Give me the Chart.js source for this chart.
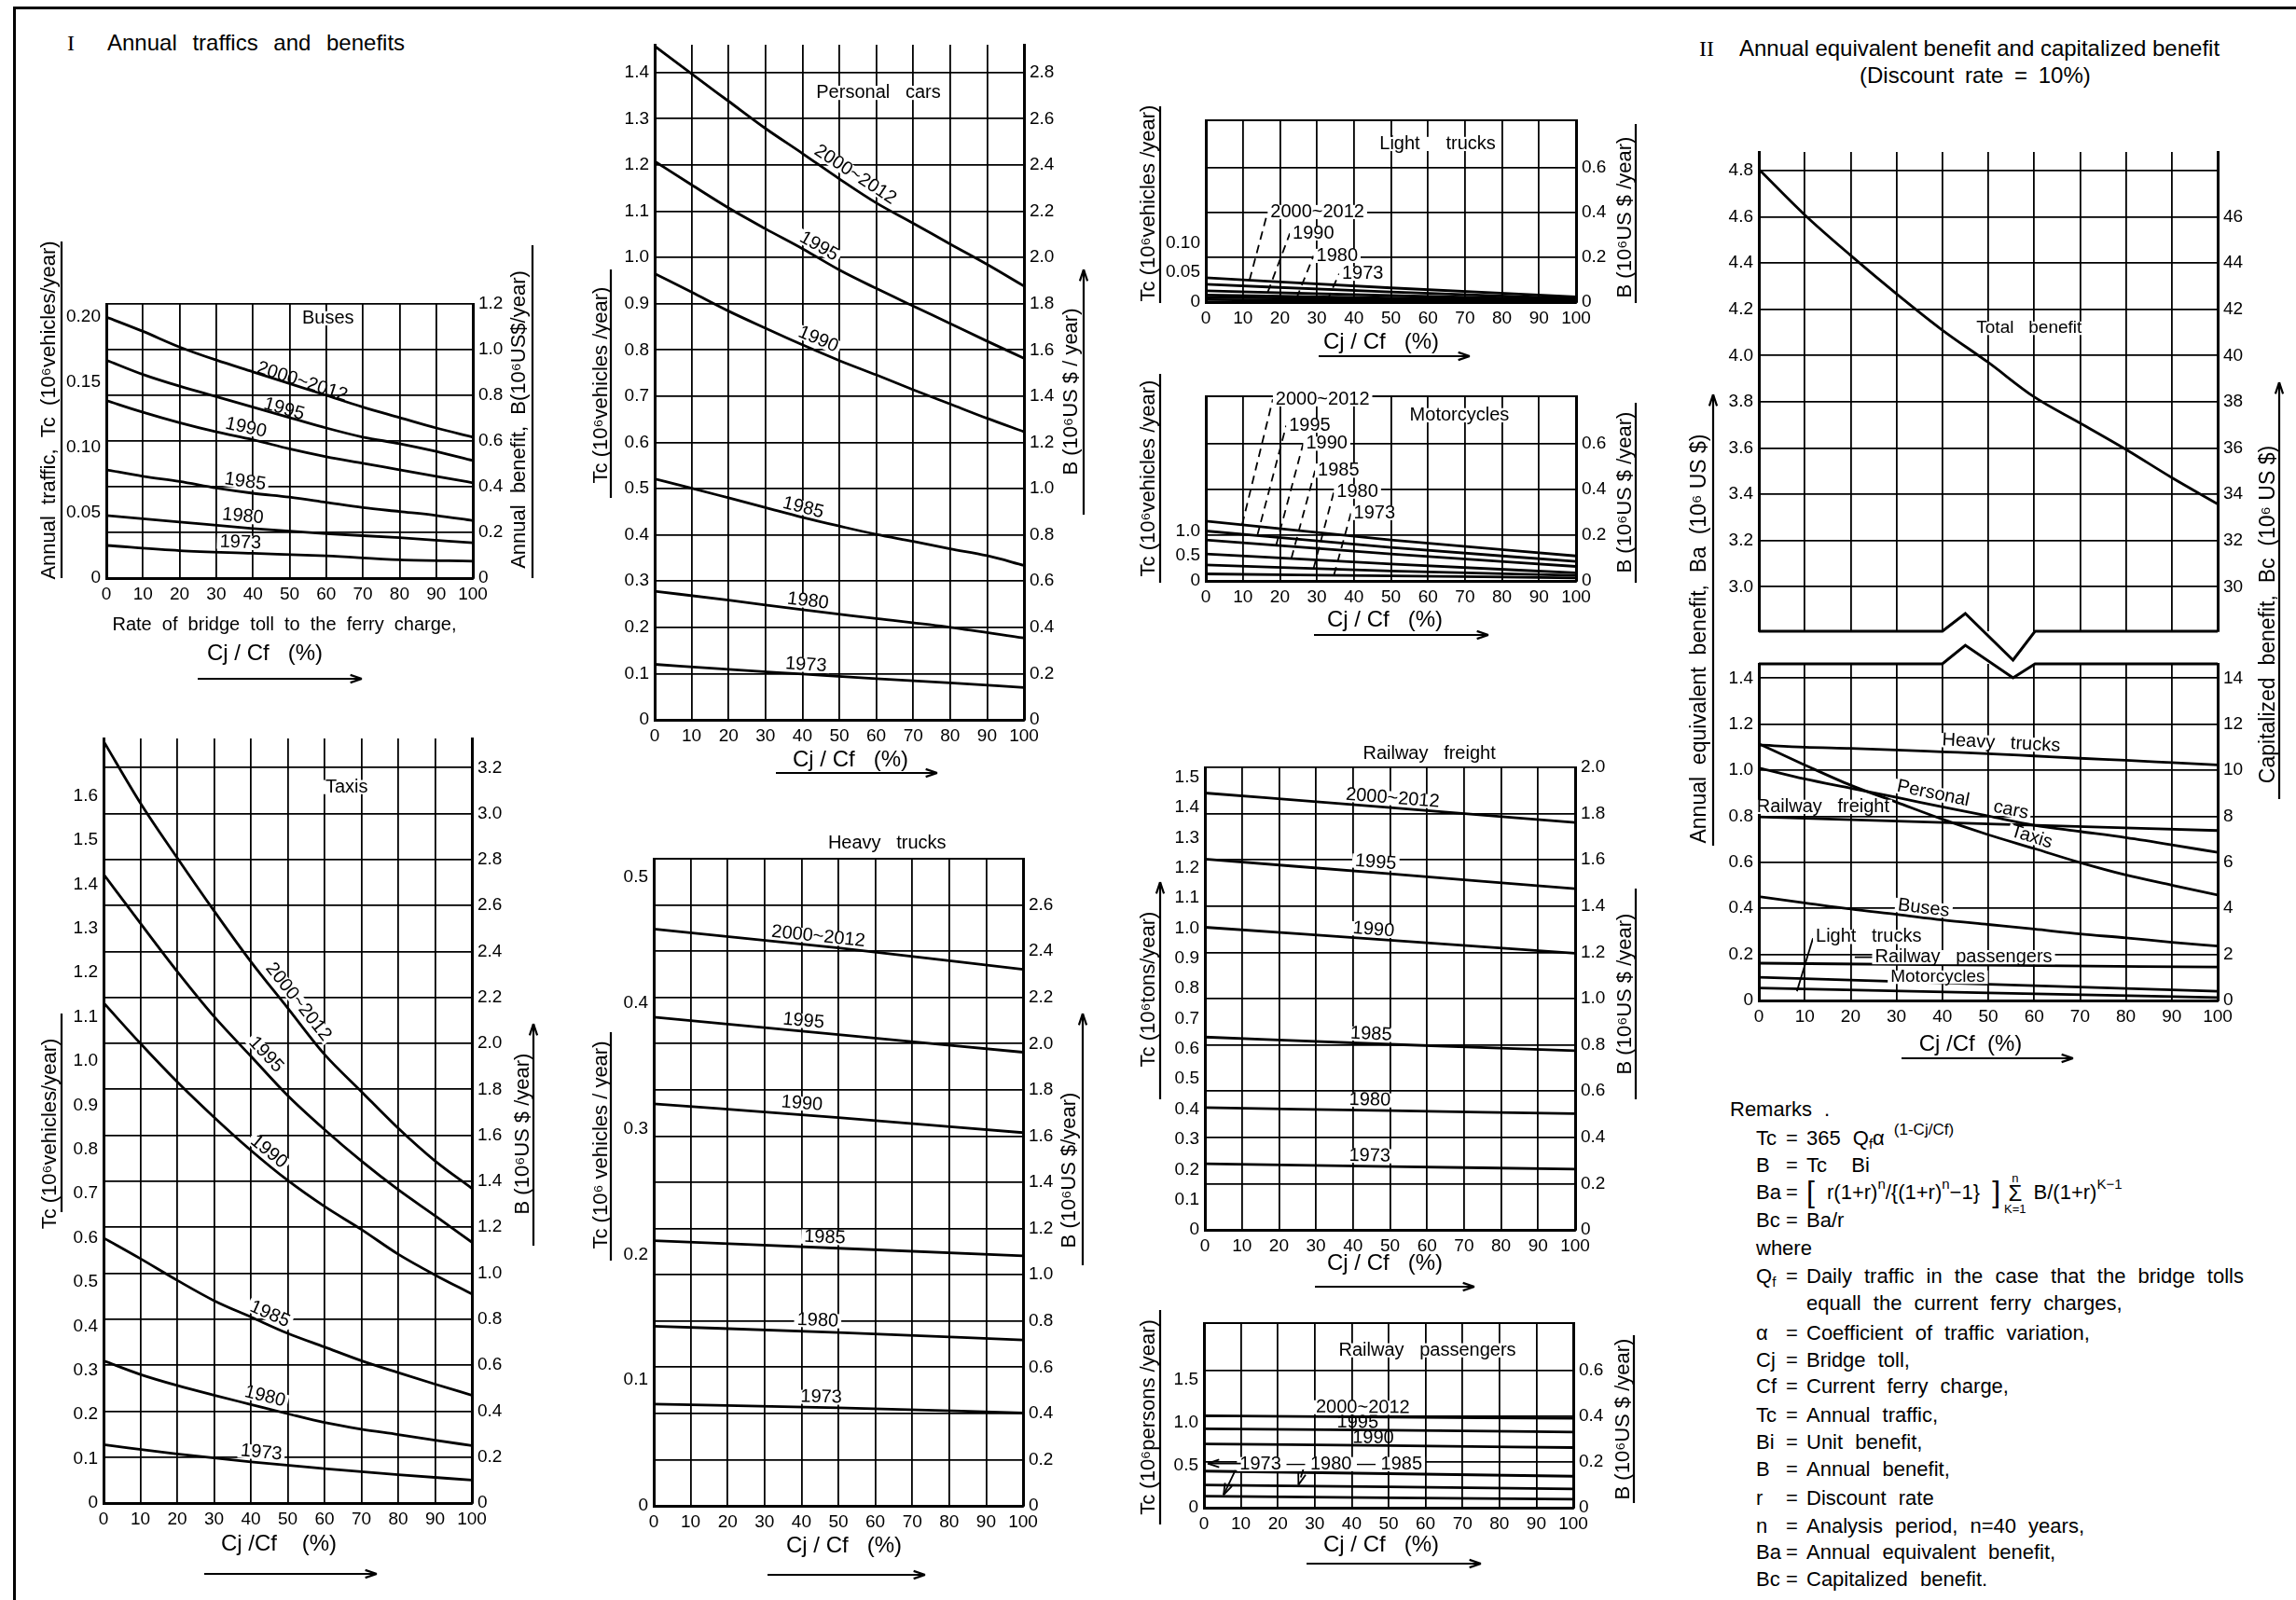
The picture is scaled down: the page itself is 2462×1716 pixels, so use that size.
<!DOCTYPE html>
<html>
<head>
<meta charset="utf-8">
<title>Annual traffics and benefits</title>
<script src="https://cdn.jsdelivr.net/npm/chart.js@4.4.1/dist/chart.umd.min.js"></script>
<style>
  html, body { margin: 0; padding: 0; }
  body { position: relative; width: 2462px; height: 1716px; overflow: hidden; background: #fff; color: #000;
         font-family: "Liberation Sans", "DejaVu Sans", Arial, sans-serif; }
  canvas { position: absolute; }
  .frame { position: absolute; left: 14px; top: 7px; width: 2470px; height: 1720px;
           border-left: 3px solid #000; border-top: 3px solid #000; }
  .h { position: absolute; white-space: pre; font-size: 24px; line-height: 28px; }
  .serif { font-family: "Liberation Serif", "DejaVu Serif", serif; }
  .rr { position: absolute; left: 1883px; white-space: pre; font-size: 22px; line-height: 26px; word-spacing: 7px; }
  .k { display: inline-block; width: 32px; word-spacing: 0; }
  .e { display: inline-block; width: 22px; }
  sup { font-size: 15px; vertical-align: 11px; line-height: 0; }
  sub { font-size: 15px; vertical-align: -4px; line-height: 0; }
  .big { font-size: 32px; vertical-align: -3px; line-height: 0; }
  .sig { display: inline-block; vertical-align: middle; text-align: center; font-size: 13px; line-height: 13px;
         margin: -20px 8px -20px 4px; word-spacing: 0; }
  .sig b { display: block; font-weight: normal; font-size: 24px; line-height: 20px; }
</style>
</head>
<body>
<div class="frame"></div>

<div class="h serif" style="left:72px;top:32px">I</div>
<div class="h" style="left:115px;top:32px;word-spacing:10px">Annual traffics and benefits</div>
<div class="h serif" style="left:1822px;top:38px">II</div>
<div class="h" style="left:1865px;top:38px">Annual equivalent benefit and capitalized benefit</div>
<div class="h" style="left:1994px;top:67px;word-spacing:5px">(Discount rate = 10%)</div>

<div class="rr" style="left:1855px;top:1177px">Remarks .</div>
<div class="rr" style="top:1208px"><span class="k">Tc</span><span class="e">=</span>365 Q<sub>f</sub>α<sup style="margin-left:10px;font-size:17px">(1-Cj/Cf)</sup></div>
<div class="rr" style="top:1237px"><span class="k">B</span><span class="e">=</span>Tc  Bi</div>
<div class="rr" style="top:1266px"><span class="k">Ba</span><span class="e">=</span><span class="big">[</span> r(1+r)<sup>n</sup>/{(1+r)<sup>n</sup>−1} <span class="big">]</span><span class="sig">n<b>Σ</b>K=1</span>B/(1+r)<sup>K−1</sup></div>
<div class="rr" style="top:1296px"><span class="k">Bc</span><span class="e">=</span>Ba/r</div>
<div class="rr" style="top:1326px">where</div>
<div class="rr" style="top:1356px"><span class="k">Q<sub>f</sub></span><span class="e">=</span>Daily traffic in the case that the bridge tolls</div>
<div class="rr" style="top:1385px;left:1937px">equall the current ferry charges,</div>
<div class="rr" style="top:1417px"><span class="k">α</span><span class="e">=</span>Coefficient of traffic variation,</div>
<div class="rr" style="top:1446px"><span class="k">Cj</span><span class="e">=</span>Bridge toll,</div>
<div class="rr" style="top:1474px"><span class="k">Cf</span><span class="e">=</span>Current ferry charge,</div>
<div class="rr" style="top:1505px"><span class="k">Tc</span><span class="e">=</span>Annual traffic,</div>
<div class="rr" style="top:1534px"><span class="k">Bi</span><span class="e">=</span>Unit benefit,</div>
<div class="rr" style="top:1563px"><span class="k">B</span><span class="e">=</span>Annual benefit,</div>
<div class="rr" style="top:1594px"><span class="k">r</span><span class="e">=</span>Discount rate</div>
<div class="rr" style="top:1624px"><span class="k">n</span><span class="e">=</span>Analysis period, n=40 years,</div>
<div class="rr" style="top:1652px"><span class="k">Ba</span><span class="e">=</span>Annual equivalent benefit,</div>
<div class="rr" style="top:1681px"><span class="k">Bc</span><span class="e">=</span>Capitalized benefit.</div>

<script>
// x values: rate of bridge toll to ferry charge, Cj/Cf (%)
const cjcf = [0, 10, 20, 30, 40, 50, 60, 70, 80, 90, 100];
const cjcf6 = [0, 20, 40, 60, 80, 100];
const cjcf3 = [0, 50, 100];
const xTicks = [0, 10, 20, 30, 40, 50, 60, 70, 80, 90, 100];

// Buses, Tc (10^6 vehicles/year)
const busesTc2000 = [0.200, 0.189, 0.177, 0.167, 0.158, 0.149, 0.140, 0.131, 0.123, 0.115, 0.108];
const busesTc1995 = [0.167, 0.156, 0.147, 0.139, 0.131, 0.123, 0.115, 0.108, 0.103, 0.097, 0.090];
const busesTc1990 = [0.136, 0.127, 0.119, 0.112, 0.106, 0.099, 0.093, 0.088, 0.083, 0.078, 0.073];
const busesTc1985 = [0.083, 0.078, 0.074, 0.069, 0.065, 0.062, 0.058, 0.054, 0.051, 0.048, 0.044];
const busesTc1980 = [0.048, 0.043, 0.038, 0.034, 0.031, 0.027];
const busesTc1973 = [0.025, 0.021, 0.019, 0.017, 0.014, 0.013];
const busesTcTicks = [0, 0.05, 0.10, 0.15, 0.20];
const busesBTicks = [0, 0.2, 0.4, 0.6, 0.8, 1.0, 1.2];

// Taxis
const taxisTc2000 = [1.724, 1.584, 1.460, 1.340, 1.225, 1.120, 1.015, 0.931, 0.848, 0.774, 0.712];
const taxisTc1995 = [1.423, 1.312, 1.203, 1.101, 1.011, 0.922, 0.845, 0.774, 0.709, 0.650, 0.590];
const taxisTc1990 = [1.132, 1.040, 0.953, 0.873, 0.798, 0.730, 0.671, 0.619, 0.563, 0.516, 0.473];
const taxisTc1985 = [0.600, 0.553, 0.504, 0.458, 0.421, 0.384, 0.353, 0.322, 0.295, 0.269, 0.244];
const taxisTc1980 = [0.322, 0.291, 0.266, 0.244, 0.223, 0.202, 0.182, 0.167, 0.155, 0.142, 0.130];
const taxisTc1973 = [0.132, 0.111, 0.093, 0.078, 0.064, 0.052];
const taxisTcTicks = [0, 0.1, 0.2, 0.3, 0.4, 0.5, 0.6, 0.7, 0.8, 0.9, 1.0, 1.1, 1.2, 1.3, 1.4, 1.5, 1.6];
const taxisBTicks = [0, 0.2, 0.4, 0.6, 0.8, 1.0, 1.2, 1.4, 1.6, 1.8, 2.0, 2.2, 2.4, 2.6, 2.8, 3.0, 3.2];

// Personal cars
const carsTc2000 = [1.457, 1.397, 1.338, 1.279, 1.225, 1.170, 1.118, 1.074, 1.029, 0.985, 0.938];
const carsTc1995 = [1.208, 1.157, 1.107, 1.062, 1.019, 0.973, 0.933, 0.895, 0.857, 0.819, 0.782];
const carsTc1990 = [0.965, 0.925, 0.884, 0.847, 0.811, 0.777, 0.746, 0.714, 0.683, 0.652, 0.623];
const carsTc1985 = [0.521, 0.501, 0.480, 0.459, 0.438, 0.419, 0.401, 0.386, 0.370, 0.355, 0.334];
const carsTc1980 = [0.278, 0.259, 0.238, 0.219, 0.200, 0.177];
const carsTc1973 = [0.120, 0.109, 0.099, 0.089, 0.080, 0.070];
const carsTcTicks = [0, 0.1, 0.2, 0.3, 0.4, 0.5, 0.6, 0.7, 0.8, 0.9, 1.0, 1.1, 1.2, 1.3, 1.4];
const carsBTicks = [0, 0.2, 0.4, 0.6, 0.8, 1.0, 1.2, 1.4, 1.6, 1.8, 2.0, 2.2, 2.4, 2.6, 2.8];

// Heavy trucks
const heavyTc2000 = [0.459, 0.444, 0.427];
const heavyTc1995 = [0.389, 0.375, 0.361];
const heavyTc1990 = [0.320, 0.309, 0.297];
const heavyTc1985 = [0.211, 0.205, 0.199];
const heavyTc1980 = [0.143, 0.138, 0.132];
const heavyTc1973 = [0.081, 0.078, 0.074];
const heavyTcTicks = [0, 0.1, 0.2, 0.3, 0.4, 0.5];
const heavyBTicks = [0, 0.2, 0.4, 0.6, 0.8, 1.0, 1.2, 1.4, 1.6, 1.8, 2.0, 2.2, 2.4, 2.6];

// Light trucks
const lightTc2000 = [0.041, 0.024, 0.009];
const lightTc1995 = [0.030, 0.017, 0.006];
const lightTc1990 = [0.019, 0.011, 0.004];
const lightTc1985 = [0.012, 0.007, 0.003];
const lightTc1980 = [0.008, 0.005, 0.002];
const lightTc1973 = [0.004, 0.002, 0.001];
const lightTcTicks = [0, 0.05, 0.10];
const lightBTicks = [0, 0.2, 0.4, 0.6];

// Motorcycles
const motoTc2000 = [1.20, 0.82, 0.50];
const motoTc1995 = [1.00, 0.67, 0.39];
const motoTc1990 = [0.82, 0.54, 0.29];
const motoTc1985 = [0.54, 0.34, 0.16];
const motoTc1980 = [0.32, 0.20, 0.11];
const motoTc1973 = [0.14, 0.10, 0.06];
const motoTcTicks = [0, 0.5, 1.0];
const motoBTicks = [0, 0.2, 0.4, 0.6];

// Railway freight, Tc (10^6 tons/year)
const freightTc2000 = [1.448, 1.400, 1.350];
const freightTc1995 = [1.229, 1.180, 1.131];
const freightTc1990 = [1.003, 0.960, 0.917];
const freightTc1985 = [0.639, 0.615, 0.594];
const freightTc1980 = [0.405, 0.395, 0.385];
const freightTc1973 = [0.219, 0.210, 0.201];
const freightTcTicks = [0, 0.1, 0.2, 0.3, 0.4, 0.5, 0.6, 0.7, 0.8, 0.9, 1.0, 1.1, 1.2, 1.3, 1.4, 1.5];
const freightBTicks = [0, 0.2, 0.4, 0.6, 0.8, 1.0, 1.2, 1.4, 1.6, 1.8, 2.0];

// Railway passengers, Tc (10^6 persons/year)
const passTc2000 = [1.080, 1.065, 1.050];
const passTc1995 = [0.927, 0.910, 0.890];
const passTc1990 = [0.750, 0.730, 0.707];
const passTc1985 = [0.430, 0.400, 0.370];
const passTc1980 = [0.267, 0.245, 0.220];
const passTc1973 = [0.135, 0.117, 0.099];
const passTcTicks = [0, 0.5, 1.0, 1.5];
const passBTicks = [0, 0.2, 0.4, 0.6];

// II: annual equivalent benefit Ba (10^6 US$), capitalized Bc = Ba / r
const totalBa = [4.805, 4.608, 4.433, 4.267, 4.110, 3.970, 3.821, 3.708, 3.594, 3.472, 3.358];
const heavyBa = [1.110, 1.100, 1.095, 1.088, 1.080, 1.072, 1.062, 1.052, 1.043, 1.033, 1.023];
const taxisBa = [1.115, 1.023, 0.935, 0.861, 0.787, 0.720, 0.660, 0.599, 0.545, 0.501, 0.458];
const carsBa = [1.010, 0.962, 0.922, 0.882, 0.841, 0.801, 0.761, 0.734, 0.707, 0.676, 0.643];
const freightBa = [0.797, 0.767, 0.738];
const busesBa = [0.451, 0.424, 0.397, 0.374, 0.350, 0.330, 0.310, 0.289, 0.272, 0.253, 0.236];
const passBa = [0.162, 0.153, 0.145];
const motoBa = [0.101, 0.070, 0.040];
const lightBa = [0.054, 0.033, 0.013];
const totalBaTicks = [3.0, 3.2, 3.4, 3.6, 3.8, 4.0, 4.2, 4.4, 4.6, 4.8];
const totalBcTicks = [30, 32, 34, 36, 38, 40, 42, 44, 46];
const partBaTicks = [0, 0.2, 0.4, 0.6, 0.8, 1.0, 1.2, 1.4];
const partBcTicks = [0, 2, 4, 6, 8, 10, 12, 14];

const FONT = '"Liberation Sans", "DejaVu Sans", Arial, sans-serif';
const AX = 64, XH = 40;
Chart.defaults.font.family = FONT;
Chart.defaults.font.size = 19;
Chart.defaults.color = '#000';

function fmt(v, d) { return v === 0 ? '0' : v.toFixed(d); }

function yAt(ser, x) {
    const [xs, ys] = ser;
    for (let i = 0; i < xs.length - 1; i++) {
        if (x <= xs[i + 1]) {
            const t = (x - xs[i]) / (xs[i + 1] - xs[i]);
            return ys[i] + t * (ys[i + 1] - ys[i]);
        }
    }
    return ys[ys.length - 1];
}

function arrowHead(ctx, x1, y1, x2, y2) {
    const a = Math.atan2(y2 - y1, x2 - x1), len = 13;
    ctx.beginPath();
    ctx.moveTo(x2, y2); ctx.lineTo(x2 - len * Math.cos(a - 0.32), y2 - len * Math.sin(a - 0.32));
    ctx.moveTo(x2, y2); ctx.lineTo(x2 - len * Math.cos(a + 0.32), y2 - len * Math.sin(a + 0.32));
    ctx.stroke();
}

function poly(ctx, pts, w, dash, arrow) {
    ctx.save();
    ctx.lineWidth = w;
    ctx.setLineDash(dash || []);
    ctx.beginPath();
    pts.forEach(([x, y], i) => i ? ctx.lineTo(x, y) : ctx.moveTo(x, y));
    ctx.stroke();
    ctx.setLineDash([]);
    if (arrow) {
        const n = pts.length;
        arrowHead(ctx, pts[n - 2][0], pts[n - 2][1], pts[n - 1][0], pts[n - 1][1]);
    }
    ctx.restore();
}

// text with an optional white box behind it, so grid lines break around it
function text(ctx, t, x, y, size, rot, align, dy, bg) {
    ctx.save();
    ctx.font = size + 'px ' + FONT;
    ctx.textAlign = align || 'center';
    ctx.textBaseline = 'middle';
    ctx.translate(x, y);
    if (rot) ctx.rotate(rot);
    if (bg) {
        const w = ctx.measureText(t).width;
        const x0 = align === 'left' ? -3 : -w / 2 - 3;
        ctx.fillStyle = '#fff';
        ctx.fillRect(x0, (dy || 0) - size * 0.38, w + 6, size * 0.76);
        ctx.fillStyle = '#000';
    }
    ctx.fillText(t, 0, dy || 0);
    ctx.restore();
}

function makeDeco(p, ox, oy) {
    return {
        id: 'deco',
        afterDraw(chart) {
            const ctx = chart.ctx, ca = chart.chartArea;
            const X = v => chart.scales.x.getPixelForValue(v);
            const Y = v => chart.scales.yL.getPixelForValue(v);
            ctx.save();
            ctx.fillStyle = '#000';
            ctx.strokeStyle = '#000';
            if (p.topLine) poly(ctx, [[ca.left, ca.top], [ca.right, ca.top]], 2);
            if (p.breakBottom) poly(ctx, p.breakBottom.map(([x, d]) => [X(x), ca.bottom + d]), 3);
            if (p.breakTop) poly(ctx, p.breakTop.map(([x, d]) => [X(x), ca.top + d]), 3);
            (p.labels || []).forEach(l => {
                const size = l.size || 20;
                if (l.line) {
                    poly(ctx, l.line.map(([x, y]) => [X(x), Y(y)]), 1.8, l.dash ? [9, 6] : null, l.arrow);
                } else if (l.xb !== undefined) {
                    const ser = p.series[l.s];
                    const bx = X(l.xb), by = Y(yAt(ser, l.xb)), tx = X(l.xt), ty = Y(l.yt);
                    poly(ctx, [[bx, by], [tx, ty]], 1.8, [9, 6]);
                    text(ctx, l.t, tx + 3, ty, size, 0, 'left', 0, true);
                } else if (l.s !== undefined) {
                    const ser = p.series[l.s];
                    const x1 = X(l.x - 3), x2 = X(l.x + 3);
                    const y1 = Y(yAt(ser, l.x - 3)), y2 = Y(yAt(ser, l.x + 3));
                    const a = Math.atan2(y2 - y1, x2 - x1);
                    text(ctx, l.t, X(l.x), Y(yAt(ser, l.x)), size, a, 'center', l.dy, l.dy <= -10);
                } else {
                    text(ctx, l.t, X(l.x), Y(l.y), size, 0, l.align || 'center', 0, !l.nobg);
                }
            });
            (p.deco || []).forEach(d => {
                if (d[0] === 'v') text(ctx, d[1], d[2] - ox, d[3] - oy, d[4], -Math.PI / 2);
                else if (d[0] === 't') text(ctx, d[1], d[2] - ox, d[3] - oy, d[4]);
                else poly(ctx, d[1].map(([x, y]) => [x - ox, y - oy]), 2.2, null, d[2]);
            });
            ctx.restore();
        }
    };
}

function makePanel(p) {
    const m = Object.assign({l: 110, r: 110, t: 90, b: 130}, p.margin || {});
    const [L, T, R, B] = p.plot.map(Math.round);
    const left = L - m.l, top = T - m.t;
    const cv = document.createElement('canvas');
    cv.width = R - L + m.l + m.r;
    cv.height = B - T + m.t + m.b;
    cv.style.left = left + 'px';
    cv.style.top = top + 'px';
    document.body.appendChild(cv);

    const gridOpt = on => ({display: on, color: '#000', lineWidth: 1.8, drawTicks: false});
    const yAxis = (ax, pos, on) => ({
        position: pos,
        min: ax.min || 0,
        max: ax.max,
        afterBuildTicks: s => { s.ticks = ax.ticks.map(v => ({value: v})); },
        afterFit: s => { s.width = AX; },
        grid: gridOpt(on),
        border: {display: true, color: '#000', width: 3},
        ticks: {padding: 6, autoSkip: false, callback: v => fmt(v, ax.dec)}
    });

    new Chart(cv, {
        type: 'line',
        data: {
            datasets: p.series.map(([xs, ys]) => ({
                data: xs.map((x, i) => ({x: x, y: ys[i]})),
                borderColor: '#000',
                borderWidth: 2.8,
                pointRadius: 0,
                fill: false,
                cubicInterpolationMode: 'monotone',
                yAxisID: 'yL'
            }))
        },
        options: {
            responsive: false,
            animation: false,
            events: [],
            layout: {padding: {left: m.l - AX, right: m.r - AX, top: m.t, bottom: m.b - XH}},
            plugins: {legend: {display: false}, tooltip: {enabled: false}},
            scales: {
                x: {
                    type: 'linear',
                    min: 0,
                    max: 100,
                    afterBuildTicks: s => { s.ticks = xTicks.map(v => ({value: v})); },
                    afterFit: s => { s.height = XH; },
                    grid: gridOpt(true),
                    border: {display: !p.noXAxis, color: '#000', width: 3},
                    ticks: {display: !p.noXAxis, padding: 6, autoSkip: false, maxRotation: 0, callback: v => String(v)}
                },
                yL: yAxis(p.yL, 'left', p.grid === 'L'),
                yR: yAxis(p.yR, 'right', p.grid === 'R')
            }
        },
        plugins: [makeDeco(p, left, top)]
    });
}

const yearSeries = (xs6, a, b, c, d, e, f, xsE, xsF) => [[xs6, a], [xs6, b], [xs6, c], [xs6, d], [xsE || xs6, e], [xsF || xs6, f]];

const panels = [
    {   // Buses
        plot: [114, 326, 507, 620],
        yL: {max: 0.21, ticks: busesTcTicks, dec: 2},
        yR: {max: 1.2, ticks: busesBTicks, dec: 1},
        grid: 'R',
        series: yearSeries(cjcf, busesTc2000, busesTc1995, busesTc1990, busesTc1985, busesTc1980, busesTc1973, cjcf6, cjcf6),
        labels: [
            {t: '2000~2012', s: 0, x: 53, dy: -6}, {t: '1995', s: 1, x: 48, dy: -7},
            {t: '1990', s: 2, x: 37.5, dy: -11}, {t: '1985', s: 3, x: 37.5, dy: -11},
            {t: '1980', s: 4, x: 37, dy: -12}, {t: '1973', s: 5, x: 36.5, dy: -11},
            {t: 'Buses', x: 60.5, y: 0.199}
        ],
        deco: [
            ['v', 'Annual  traffic,  Tc  (10⁶vehicles/year)', 53, 440, 22], ['l', [[66, 620], [66, 259]]],
            ['v', 'Annual  benefit,  B(10⁶US$/year)', 557, 450, 22], ['l', [[571, 620], [571, 263]]],
            ['t', 'Rate  of  bridge  toll  to  the  ferry  charge,', 305, 670, 20],
            ['t', 'Cj / Cf   (%)', 284, 701, 24], ['l', [[212, 728], [388, 728]], true]
        ]
    },
    {   // Taxis
        plot: [111, 792, 506, 1612],
        yL: {max: 1.73, ticks: taxisTcTicks, dec: 1},
        yR: {max: 3.327, ticks: taxisBTicks, dec: 1},
        grid: 'R',
        series: yearSeries(cjcf, taxisTc2000, taxisTc1995, taxisTc1990, taxisTc1985, taxisTc1980, taxisTc1973, cjcf, cjcf6),
        labels: [
            {t: '2000~2012', s: 0, x: 50.3, dy: -13}, {t: '1995', s: 1, x: 41.7, dy: -13},
            {t: '1990', s: 2, x: 43.1, dy: -11}, {t: '1985', s: 3, x: 44, dy: -11},
            {t: '1980', s: 4, x: 43.1, dy: -12}, {t: '1973', s: 5, x: 42.6, dy: -11},
            {t: 'Taxis', x: 66, y: 1.62}
        ],
        deco: [
            ['v', 'Tc (10⁶vehicles/year)', 54, 1216, 22], ['l', [[66, 1300], [66, 1087]]],
            ['v', 'B (10⁶US $ /year)', 561, 1216, 22], ['l', [[572, 1336], [572, 1098]], true],
            ['t', 'Cj /Cf    (%)', 299, 1656, 24], ['l', [[219, 1688], [404, 1688]], true]
        ]
    },
    {   // Personal cars
        plot: [702, 48, 1098, 772],
        yL: {max: 1.46, ticks: carsTcTicks, dec: 1},
        yR: {max: 2.92, ticks: carsBTicks, dec: 1},
        grid: 'L',
        series: yearSeries(cjcf, carsTc2000, carsTc1995, carsTc1990, carsTc1985, carsTc1980, carsTc1973, cjcf6, cjcf6),
        labels: [
            {t: '2000~2012', s: 0, x: 52.5, dy: -13}, {t: '1995', s: 1, x: 43.1, dy: -11},
            {t: '1990', s: 2, x: 43.1, dy: -12}, {t: '1985', s: 3, x: 39.6, dy: -10},
            {t: '1980', s: 4, x: 41.2, dy: -10}, {t: '1973', s: 5, x: 40.8, dy: -10},
            {t: 'Personal   cars', x: 60.6, y: 1.356}
        ],
        deco: [
            ['v', 'Tc (10⁶vehicles /year)', 645, 413, 22], ['l', [[655, 534], [655, 289]]],
            ['v', 'B (10⁶US $ / year)', 1149, 420, 22], ['l', [[1162, 552], [1162, 289]], true],
            ['t', 'Cj / Cf   (%)', 912, 815, 24], ['l', [[832, 829], [1005, 829]], true]
        ]
    },
    {   // Heavy trucks
        plot: [701, 921, 1097, 1615],
        yL: {max: 0.515, ticks: heavyTcTicks, dec: 1},
        yR: {max: 2.80, ticks: heavyBTicks, dec: 1},
        grid: 'R',
        topLine: true,
        series: yearSeries(cjcf3, heavyTc2000, heavyTc1995, heavyTc1990, heavyTc1985, heavyTc1980, heavyTc1973),
        labels: [
            {t: '2000~2012', s: 0, x: 44.3, dy: -10}, {t: '1995', s: 1, x: 40.3, dy: -11},
            {t: '1990', s: 2, x: 39.9, dy: -12}, {t: '1985', s: 3, x: 46.2, dy: -11},
            {t: '1980', s: 4, x: 44.3, dy: -12}, {t: '1973', s: 5, x: 45.3, dy: -11},
            {t: 'Heavy   trucks', x: 63.2, y: 0.527}
        ],
        deco: [
            ['v', 'Tc (10⁶ vehicles / year)', 645, 1228, 22], ['l', [[655, 1352], [655, 1107]]],
            ['v', 'B (10⁶US $/year)', 1147, 1255, 22], ['l', [[1161, 1357], [1161, 1087]], true],
            ['t', 'Cj / Cf   (%)', 905, 1658, 24], ['l', [[823, 1689], [992, 1689]], true]
        ]
    },
    {   // Light trucks
        plot: [1293, 129, 1690, 324],
        yL: {max: 0.307, ticks: lightTcTicks, dec: 2},
        yR: {max: 0.814, ticks: lightBTicks, dec: 1},
        grid: 'R',
        topLine: true,
        series: yearSeries(cjcf3, lightTc2000, lightTc1995, lightTc1990, lightTc1985, lightTc1980, lightTc1973),
        labels: [
            {t: '2000~2012', s: 0, xb: 11.8, xt: 16.7, yt: 0.152},
            {t: '1990', s: 2, xb: 16.7, xt: 22.7, yt: 0.116},
            {t: '1980', s: 4, xb: 24.5, xt: 29.1, yt: 0.078},
            {t: '1973', s: 5, xb: 32.8, xt: 36, yt: 0.048},
            {t: 'Light     trucks', x: 62.6, y: 0.267}
        ],
        deco: [
            ['v', 'Tc (10⁶vehicles /year)', 1232, 218, 22], ['l', [[1244, 325], [1244, 114]]],
            ['v', 'B (10⁶US $ /year)', 1743, 233, 22], ['l', [[1754, 325], [1754, 133]]],
            ['t', 'Cj / Cf   (%)', 1481, 367, 24], ['l', [[1414, 382], [1576, 382]], true]
        ]
    },
    {   // Motorcycles
        plot: [1293, 425, 1690, 623],
        yL: {max: 3.70, ticks: motoTcTicks, dec: 1},
        yR: {max: 0.808, ticks: motoBTicks, dec: 1},
        grid: 'R',
        topLine: true,
        series: yearSeries(cjcf3, motoTc2000, motoTc1995, motoTc1990, motoTc1985, motoTc1980, motoTc1973),
        labels: [
            {t: '2000~2012', s: 0, xb: 9.8, xt: 18.1, yt: 3.64},
            {t: '1995', s: 1, xb: 13.9, xt: 21.7, yt: 3.11},
            {t: '1990', s: 2, xb: 19, xt: 26.3, yt: 2.75},
            {t: '1985', s: 3, xb: 23.1, xt: 29.5, yt: 2.21},
            {t: '1980', s: 4, xb: 29.1, xt: 34.6, yt: 1.79},
            {t: '1973', s: 5, xb: 34.6, xt: 39.2, yt: 1.36},
            {t: 'Motorcycles', x: 68.5, y: 3.32}
        ],
        deco: [
            ['v', 'Tc (10⁶vehicles /year)', 1232, 513, 22], ['l', [[1244, 625], [1244, 401]]],
            ['v', 'B (10⁶US $ /year)', 1743, 528, 22], ['l', [[1754, 625], [1754, 432]]],
            ['t', 'Cj / Cf   (%)', 1485, 665, 24], ['l', [[1409, 681], [1596, 681]], true]
        ]
    },
    {   // Railway freight
        plot: [1292, 823, 1689, 1319],
        yL: {max: 1.533, ticks: freightTcTicks, dec: 1},
        yR: {max: 2.0, ticks: freightBTicks, dec: 1},
        grid: 'R',
        series: yearSeries(cjcf3, freightTc2000, freightTc1995, freightTc1990, freightTc1985, freightTc1980, freightTc1973),
        labels: [
            {t: '2000~2012', s: 0, x: 50.5, dy: -10}, {t: '1995', s: 1, x: 45.9, dy: -11},
            {t: '1990', s: 2, x: 45.4, dy: -10}, {t: '1985', s: 3, x: 44.8, dy: -10},
            {t: '1980', s: 4, x: 44.5, dy: -11}, {t: '1973', s: 5, x: 44.5, dy: -11},
            {t: 'Railway   freight', x: 60.6, y: 1.578}
        ],
        deco: [
            ['v', 'Tc (10⁶tons/year)', 1232, 1061, 22], ['l', [[1244, 1179], [1244, 946]], true],
            ['v', 'B (10⁶US $ /year)', 1743, 1066, 22], ['l', [[1754, 1179], [1754, 953]]],
            ['t', 'Cj / Cf   (%)', 1485, 1355, 24], ['l', [[1410, 1380], [1581, 1380]], true]
        ]
    },
    {   // Railway passengers
        plot: [1291, 1419, 1687, 1617],
        yL: {max: 2.17, ticks: passTcTicks, dec: 1},
        yR: {max: 0.807, ticks: passBTicks, dec: 1},
        grid: 'R',
        topLine: true,
        series: yearSeries(cjcf3, passTc2000, passTc1995, passTc1990, passTc1985, passTc1980, passTc1973),
        labels: [
            {t: '2000~2012', s: 0, x: 43, dy: -10}, {t: '1995', s: 1, x: 41.6, dy: -8},
            {t: '1990', s: 2, x: 45.8, dy: -8},
            {t: '1973 — 1980 — 1985', x: 34.4, y: 0.512},
            {line: [[8.5, 0.44], [5.3, 0.15]], arrow: true},
            {line: [[26.9, 0.45], [25.6, 0.27]], dash: true, arrow: true},
            {line: [[10, 0.52], [1, 0.52]], arrow: true},
            {t: 'Railway   passengers', x: 60.5, y: 1.85}
        ],
        deco: [
            ['v', 'Tc (10⁶persons /year)', 1232, 1520, 22], ['l', [[1244, 1635], [1244, 1405]]],
            ['v', 'B (10⁶US $ /year)', 1741, 1522, 22], ['l', [[1752, 1612], [1752, 1432]]],
            ['t', 'Cj / Cf   (%)', 1481, 1657, 24], ['l', [[1401, 1677], [1588, 1677]], true]
        ]
    },
    {   // II, total benefit (upper part of the broken axis)
        plot: [1886, 163, 2378, 677],
        yL: {min: 2.808, max: 4.88, ticks: totalBaTicks, dec: 1},
        yR: {min: 28.08, max: 48.8, ticks: totalBcTicks, dec: 0},
        grid: 'L',
        noXAxis: true,
        breakBottom: [[0, 0], [40, 0], [45, -19], [55.4, 31], [60.2, 0], [100, 0]],
        series: [[cjcf, totalBa]],
        labels: [{t: 'Total   benefit', x: 58.9, y: 4.118, size: 19}]
    },
    {   // II, benefit by category (lower part)
        plot: [1886, 712, 2378, 1073],
        margin: {t: 320},
        yL: {max: 1.462, ticks: partBaTicks, dec: 1},
        yR: {max: 14.62, ticks: partBcTicks, dec: 0},
        grid: 'L',
        breakTop: [[0, 0], [40, 0], [45, -20], [55.4, 15], [60.2, 0], [100, 0]],
        series: [[cjcf, heavyBa], [cjcf, taxisBa], [cjcf, carsBa], [cjcf3, freightBa],
                 [cjcf, busesBa], [cjcf3, passBa], [cjcf3, motoBa], [cjcf3, lightBa]],
        labels: [
            {t: 'Heavy   trucks', s: 0, x: 52.7, dy: -12},
            {t: 'Personal', s: 2, x: 37.5, dy: -12},
            {t: 'cars', s: 2, x: 54.5, dy: -11},
            {t: 'Taxis', s: 1, x: 58.8, dy: -11},
            {t: 'Railway   freight', x: 14, y: 0.841},
            {t: 'Buses', s: 4, x: 35.7, dy: -10},
            {line: [[8.3, 0.04], [11.8, 0.27]]},
            {t: 'Light   trucks', x: 12.4, y: 0.276, align: 'left'},
            {line: [[20.9, 0.188], [24.8, 0.188]]},
            {t: 'Railway   passengers', x: 25.3, y: 0.188, align: 'left'},
            {t: 'Motorcycles', x: 39, y: 0.101, size: 19}
        ],
        deco: [
            ['v', 'Annual  equivalent  benefit,  Ba  (10⁶ US $)', 1823, 685, 23], ['l', [[1837, 907], [1837, 423]], true],
            ['v', 'Capitalized  benefit,  Bc  (10⁶ US $)', 2433, 659, 23], ['l', [[2444, 857], [2444, 410]], true],
            ['t', 'Cj /Cf  (%)', 2113, 1120, 24], ['l', [[2039, 1135], [2223, 1135]], true]
        ]
    }
];

panels.forEach(makePanel);
</script>
</body>
</html>
